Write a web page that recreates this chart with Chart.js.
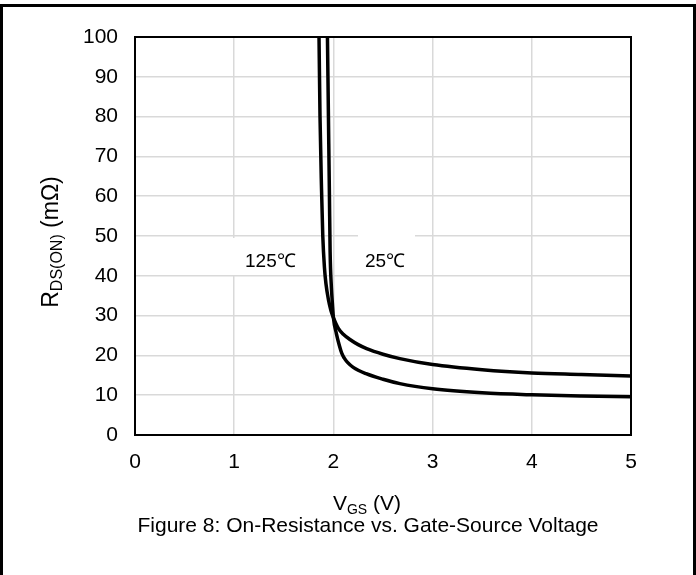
<!DOCTYPE html>
<html>
<head>
<meta charset="utf-8">
<script src="https://cdn.jsdelivr.net/npm/chart.js@4"></script>
<style>
  html, body { margin: 0; padding: 0; background: #fff; }
  #chart { display: block; }
</style>
</head>
<body>
<canvas id="chart" width="696" height="575"></canvas>
<script>
// Data
const vgs125 = [1.855, 1.865, 1.88, 1.893, 1.91, 1.925, 1.95, 1.975, 2.0, 2.05, 2.1, 2.167, 2.25, 2.335, 2.5, 2.67, 3.0, 3.5, 4.0, 4.5, 5.0];
const rds125 = [100, 80, 62, 50, 42, 38, 34, 31.3, 29.5, 26.8, 25.3, 24.0, 22.7, 21.7, 20.3, 19.2, 17.7, 16.4, 15.6, 15.2, 14.8];

const vgs25 = [1.94, 1.95, 1.96, 1.967, 1.98, 1.99, 2.0, 2.03, 2.06, 2.085, 2.11, 2.14, 2.2, 2.33, 2.5, 2.67, 3.0, 3.5, 4.0, 4.5, 5.0];
const rds25 = [100, 80, 60, 46, 37, 33, 29.5, 25.5, 22.5, 20.5, 19.3, 18.3, 17, 15.4, 14, 12.9, 11.6, 10.6, 10.1, 9.8, 9.6];

const seriesLabels = ['125\u2103', '25\u2103'];
const xTitle = ['V', 'GS', ' (V)'];
const yTitle = ['R', 'DS(ON)', ' (m\u03A9)'];
const caption = 'Figure 8: On-Resistance vs. Gate-Source Voltage';

const FONT = '"Liberation Sans", Arial, sans-serif';

function toPoints(xs, ys) {
    return xs.map((x, i) => ({ x: x, y: ys[i] }));
}

// draw text with a subscript part, centred on (0,0) of current transform
function drawSubText(ctx, parts, size, subSize) {
    ctx.font = size + 'px ' + FONT;
    const w0 = ctx.measureText(parts[0]).width;
    const w2 = ctx.measureText(parts[2]).width;
    ctx.font = subSize + 'px ' + FONT;
    const w1 = ctx.measureText(parts[1]).width;
    let x = -(w0 + w1 + w2) / 2;
    const base = size * 0.35;
    ctx.textBaseline = 'alphabetic';
    ctx.textAlign = 'left';
    ctx.font = size + 'px ' + FONT;
    ctx.fillText(parts[0], x, base);
    x += w0;
    ctx.font = subSize + 'px ' + FONT;
    ctx.fillText(parts[1], x, base + 4);
    x += w1;
    ctx.font = size + 'px ' + FONT;
    ctx.fillText(parts[2], x, base);
}

const decor = {
    id: 'decor',
    beforeDraw(chart) {
        const ctx = chart.ctx;
        ctx.save();
        ctx.fillStyle = '#fff';
        ctx.fillRect(0, 0, chart.width, chart.height);
        // outer frame
        ctx.strokeStyle = '#000';
        ctx.lineWidth = 3;
        ctx.strokeRect(1.5, 5.5, chart.width - 3, chart.height + 10);
        ctx.restore();
    },
    beforeDatasetsDraw(chart) {
        const ctx = chart.ctx;
        const a = chart.chartArea;
        ctx.save();
        // white label boxes over the grid
        ctx.fillStyle = '#fff';
        ctx.fillRect(230, 238, 72, 37);
        ctx.fillRect(358, 233, 57, 42);
        // plot border
        ctx.strokeStyle = '#000';
        ctx.lineWidth = 2;
        ctx.strokeRect(a.left, a.top, a.right - a.left, a.bottom - a.top);
        // curve labels
        ctx.fillStyle = '#000';
        ctx.font = '19px ' + FONT;
        ctx.textBaseline = 'middle';
        ctx.textAlign = 'left';
        ctx.fillText(seriesLabels[0], 245, 262);
        ctx.fillText(seriesLabels[1], 365, 262);
        ctx.restore();
    },
    afterDraw(chart) {
        const ctx = chart.ctx;
        ctx.save();
        ctx.fillStyle = '#000';
        // x axis title
        ctx.translate(367, 503);
        drawSubText(ctx, xTitle, 21, 14);
        ctx.restore();
        ctx.save();
        ctx.fillStyle = '#000';
        ctx.translate(50, 242);
        ctx.rotate(-Math.PI / 2);
        drawSubText(ctx, yTitle, 23, 16);
        ctx.restore();
        ctx.save();
        ctx.fillStyle = '#000';
        ctx.font = '21px ' + FONT;
        ctx.textAlign = 'center';
        ctx.textBaseline = 'alphabetic';
        ctx.fillText(caption, 368, 532);
        ctx.restore();
    }
};

const lineStyle = {
    showLine: true,
    borderColor: '#000',
    backgroundColor: '#000',
    borderWidth: 3.5,
    pointRadius: 0,
    cubicInterpolationMode: 'monotone',
    fill: false
};

new Chart(document.getElementById('chart'), {
    type: 'scatter',
    data: {
        datasets: [
            Object.assign({ label: seriesLabels[0], data: toPoints(vgs125, rds125) }, lineStyle),
            Object.assign({ label: seriesLabels[1], data: toPoints(vgs25, rds25) }, lineStyle)
        ]
    },
    options: {
        responsive: false,
        animation: false,
        devicePixelRatio: 1,
        layout: { padding: { top: 37, right: 65, left: 0, bottom: 0 } },
        plugins: {
            legend: { display: false },
            tooltip: { enabled: false }
        },
        scales: {
            x: {
                type: 'linear',
                min: 0,
                max: 5,
                afterFit(scale) { scale.height = 140; },
                grid: { color: '#d9d9d9', lineWidth: 1.5, drawTicks: false },
                border: { display: false },
                ticks: {
                    stepSize: 1,
                    padding: 15,
                    color: '#000',
                    font: { family: FONT, size: 21 }
                }
            },
            y: {
                type: 'linear',
                min: 0,
                max: 100,
                afterFit(scale) { scale.width = 135; },
                grid: { color: '#d9d9d9', lineWidth: 1.5, drawTicks: false },
                border: { display: false },
                ticks: {
                    stepSize: 10,
                    padding: 17,
                    color: '#000',
                    font: { family: FONT, size: 21 }
                }
            }
        }
    },
    plugins: [decor]
});
</script>
</body>
</html>
